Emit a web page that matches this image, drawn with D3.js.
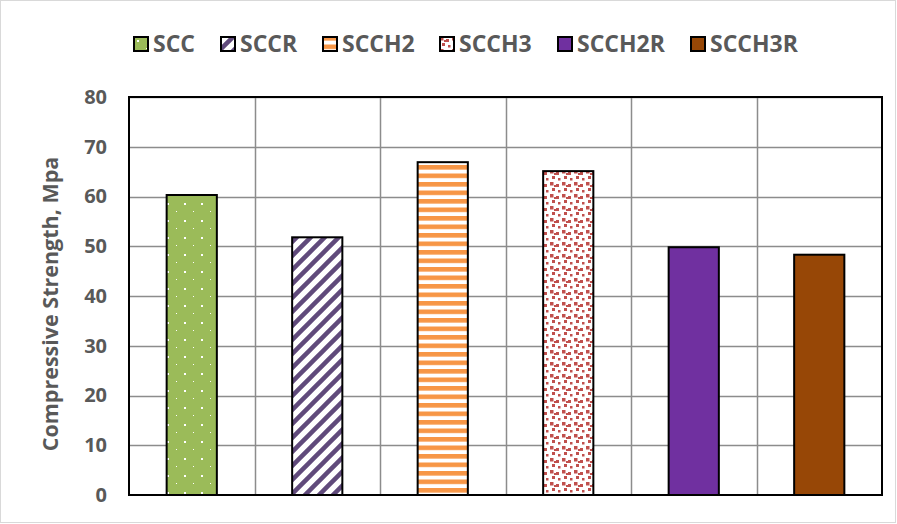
<!DOCTYPE html>
<html>
<head>
<meta charset="utf-8">
<script src="https://cdn.jsdelivr.net/npm/d3@7"></script>
<style>
  body { margin: 0; background: #fff; }
  text { font-family: "Open Sans", "Liberation Sans", sans-serif; font-weight: bold; fill: #595959; }
</style>
</head>
<body>
<svg id="chart" width="897" height="524"></svg>
<script>
var categories = ["SCC", "SCCR", "SCCH2", "SCCH3", "SCCH2R", "SCCH3R"];
var strength = [60.3, 51.8, 66.9, 65.1, 49.8, 48.3];
var yTicks = [0, 10, 20, 30, 40, 50, 60, 70, 80];

var svg = d3.select("#chart"),
    margin = {top: 97, right: 15, bottom: 29, left: 129},
    width = 897 - margin.left - margin.right,
    height = 524 - margin.top - margin.bottom;

// outer frame
svg.append("rect")
    .attr("x", 0.5).attr("y", 0.5)
    .attr("width", 895).attr("height", 522)
    .attr("fill", "none").attr("stroke", "#d9d9d9");

var defs = svg.append("defs");

// fill patterns
var pDots = defs.append("pattern").attr("id", "p-scc")
    .attr("patternUnits", "userSpaceOnUse").attr("width", 17).attr("height", 17);
pDots.append("rect").attr("width", 17).attr("height", 17).attr("fill", "#9bbb59");
pDots.append("rect").attr("x", 4).attr("y", 4).attr("width", 2).attr("height", 2).attr("fill", "#fff");
pDots.append("rect").attr("x", 13).attr("y", 12).attr("width", 1).attr("height", 1).attr("fill", "#fff");

// "/" hatch
var pDiag = defs.append("pattern").attr("id", "p-sccr")
    .attr("patternUnits", "userSpaceOnUse").attr("width", 14).attr("height", 14);
pDiag.append("rect").attr("width", 14).attr("height", 14).attr("fill", "#fff");
pDiag.append("path").attr("d", "M-3,3 L3,-3 M0,14 L14,0 M11,17 L17,11")
    .attr("stroke", "#604a7b").attr("stroke-width", 4.5);

var pHor = defs.append("pattern").attr("id", "p-scch2")
    .attr("patternUnits", "userSpaceOnUse").attr("width", 8).attr("height", 8.5);
pHor.append("rect").attr("width", 8).attr("height", 8.5).attr("fill", "#fff");
pHor.append("rect").attr("y", 0).attr("width", 8).attr("height", 4.6).attr("fill", "#f79646");

var pSq = defs.append("pattern").attr("id", "p-scch3")
    .attr("patternUnits", "userSpaceOnUse").attr("width", 12).attr("height", 12);
pSq.append("rect").attr("width", 12).attr("height", 12).attr("fill", "#fff");
[[1, 1, 3.5], [7, 3, 3], [3, 7, 3], [9, 9, 2.5], [5, 4, 2]].forEach(function (s) {
    pSq.append("rect").attr("x", s[0]).attr("y", s[1]).attr("width", s[2]).attr("height", s[2])
        .attr("fill", "#c0504d");
});

var fills = ["url(#p-scc)", "url(#p-sccr)", "url(#p-scch2)", "url(#p-scch3)", "#7030a0", "#974706"];

var x = d3.scaleBand().domain(categories).range([0, width]).paddingInner(0).paddingOuter(0);
var y = d3.scaleLinear().domain([0, 80]).range([height, 0]);

var g = svg.append("g").attr("transform", "translate(" + margin.left + "," + margin.top + ")");

// gridlines
g.selectAll(".hgrid").data(yTicks.slice(1)).enter().append("line")
    .attr("x1", 0).attr("x2", width)
    .attr("y1", function (d) { return Math.round(y(d)) + 0.5; })
    .attr("y2", function (d) { return Math.round(y(d)) + 0.5; })
    .attr("stroke", "#8c8c8c").attr("stroke-width", 1.5);
g.selectAll(".vgrid").data(categories.slice(1)).enter().append("line")
    .attr("x1", function (d) { return Math.round(x(d)) + 0.5; })
    .attr("x2", function (d) { return Math.round(x(d)) + 0.5; })
    .attr("y1", 0).attr("y2", height)
    .attr("stroke", "#8c8c8c").attr("stroke-width", 1.5);

// bars
var barW = x.bandwidth() * 0.4;
g.selectAll(".bar").data(strength).enter().append("rect")
    .attr("x", function (d, i) { return x(categories[i]) + (x.bandwidth() - barW) / 2; })
    .attr("y", function (d) { return y(d); })
    .attr("width", barW)
    .attr("height", function (d) { return height - y(d); })
    .attr("fill", function (d, i) { return fills[i]; })
    .attr("stroke", "#000").attr("stroke-width", 2);

// plot border
g.append("rect").attr("width", width).attr("height", height)
    .attr("fill", "none").attr("stroke", "#000").attr("stroke-width", 2);

// y axis labels
var yAxis = d3.axisLeft(y).tickValues(yTicks).tickSize(0).tickPadding(22);
var ya = g.append("g").call(yAxis);
ya.select(".domain").remove();
ya.selectAll("text").style("font-size", "20px").attr("fill", "#595959")
    .style("font-family", "'Open Sans', sans-serif").style("font-weight", "bold");

// y title
svg.append("text")
    .attr("transform", "translate(58,304) rotate(-90)")
    .attr("text-anchor", "middle")
    .style("font-size", "21.5px")
    .text("Compressive Strength, Mpa");

// legend
var legendX = [133, 220, 322, 439, 557, 690];
var lg = svg.append("g").selectAll("g").data(categories).enter().append("g")
    .attr("transform", function (d, i) { return "translate(" + legendX[i] + ",36)"; });
lg.append("rect").attr("x", 1).attr("y", 1).attr("width", 14).attr("height", 14)
    .attr("fill", function (d, i) { return fills[i]; })
    .attr("stroke", "#000").attr("stroke-width", 2);
lg.append("text").attr("x", 20).attr("y", 8).attr("dy", "0.36em")
    .style("font-size", "23px").text(function (d) { return d; });
</script>
</body>
</html>
